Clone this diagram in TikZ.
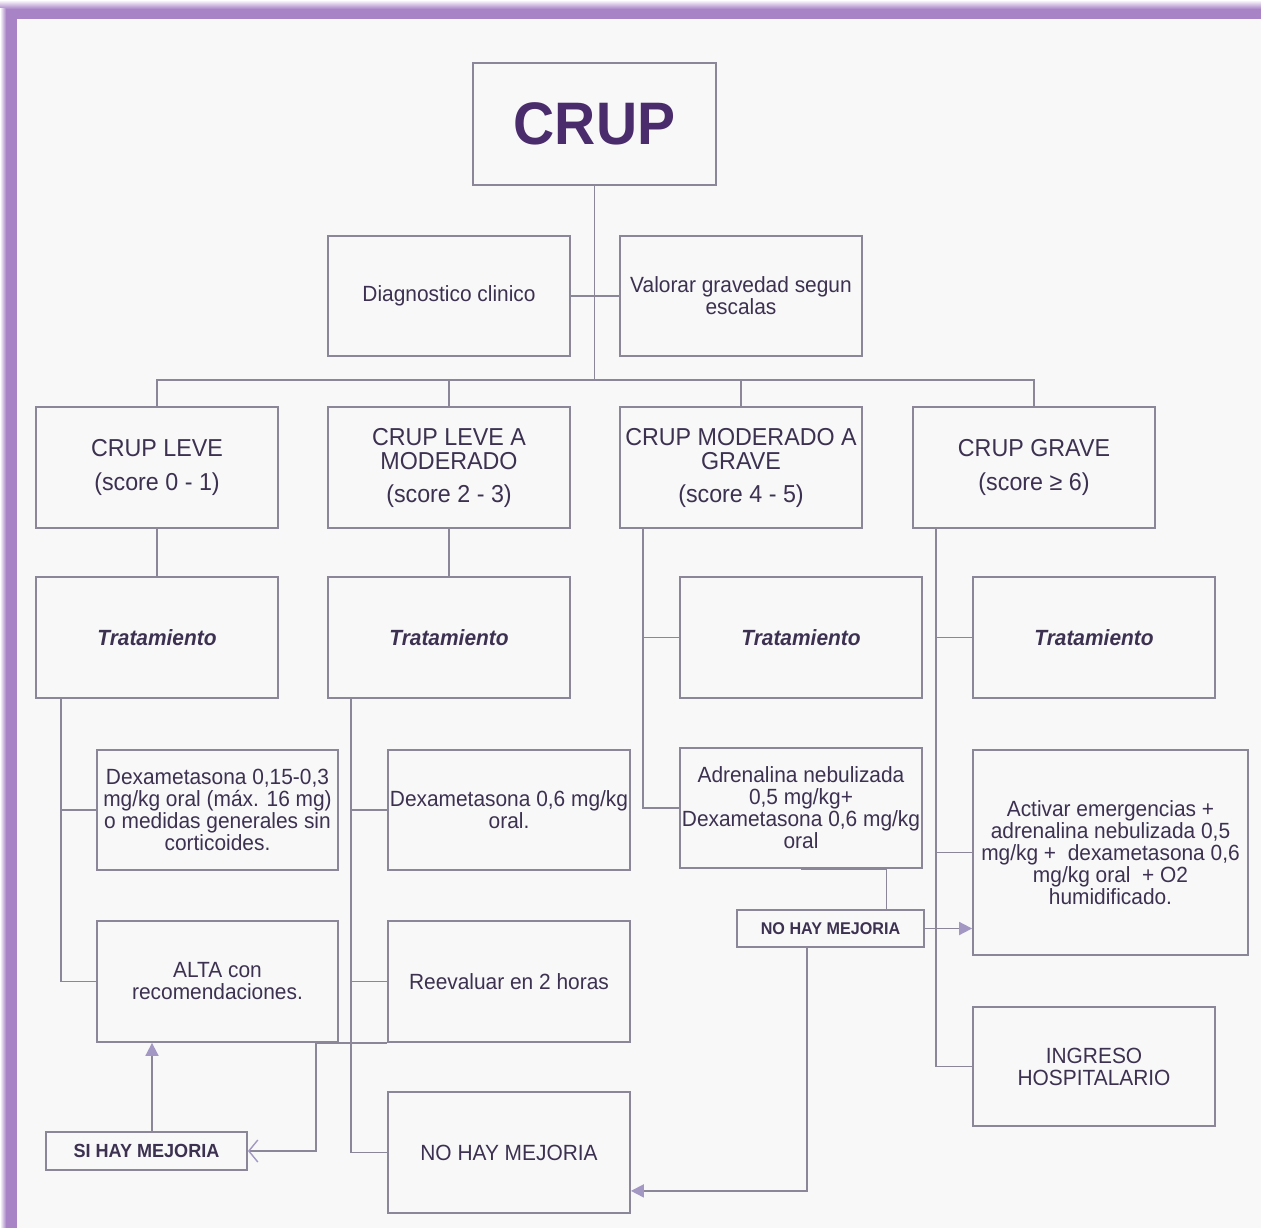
\documentclass[tikz,border=0pt]{standalone}
\usepackage{fontspec}
\setmainfont{Liberation Sans}[FakeStretch=0.95]
\usetikzlibrary{arrows.meta}
\definecolor{bgc}{HTML}{F8F8F8}
\definecolor{framec}{HTML}{A884C6}
\definecolor{linec}{HTML}{8C8699}
\definecolor{textc}{HTML}{3C3150}
\definecolor{titlec}{HTML}{4A2B6B}
\definecolor{arrowc}{HTML}{A397C4}
\begin{document}
\begin{tikzpicture}[x=1pt,y=-1pt,
  box/.style={draw=linec, line width=1.8pt, fill=bgc, inner sep=0pt, align=center, text=textc,
    minimum width=242pt, minimum height=121pt, font=\fontsize{22}{22}\selectfont},
  lvl/.style={box, font=\fontsize{24.5}{24}\selectfont},
  tag/.style={box, minimum height=38pt, font=\fontsize{17}{17}\selectfont\bfseries},
  conn/.style={draw=linec, line width=1.8pt},
  farrow/.style={conn, -{Triangle[length=13pt,width=13pt,color=arrowc]}},
  oarrow/.style={conn, -{Straight Barb[length=9pt,width=22pt,color=arrowc,line width=1.4pt]}}
]
\useasboundingbox (0,0) rectangle (1261,1228);
\fill[bgc] (0,0) rectangle (1261,1228);
\shade[top color=white, bottom color=framec] (0,0) rectangle (1261,9);
\fill[framec] (6,9) rectangle (1261,19);
\shade[left color=white, right color=framec] (0,9) rectangle (6,1228);
\fill[framec] (6,9) rectangle (17,1228);

% nodes
\node[box, minimum width=243pt, minimum height=122pt, text=titlec, font=\fontsize{60}{60}\selectfont\bfseries] (title) at (594.5,124) {CRUP};
\node[box, minimum height=120pt] (diag) at (449,296) {Diagnostico clinico};
\node[box, minimum height=120pt] (valor) at (741,296) {Valorar gravedad segun\\escalas};

\node[lvl] (leve) at (157,467.5) {CRUP LEVE\\[10pt](score 0 - 1)};
\node[lvl] (lam) at (449,467.5) {CRUP LEVE A\\MODERADO\\[9pt](score 2 - 3)};
\node[lvl] (mag) at (741,467.5) {CRUP MODERADO A\\GRAVE\\[9pt](score 4 - 5)};
\node[lvl] (grave) at (1034,467.5) {CRUP GRAVE\\[10pt](score ≥ 6)};

\node[box, font=\fontsize{22}{22}\selectfont\bfseries\itshape] (t1) at (157,637.5) {Tratamiento};
\node[box, font=\fontsize{22}{22}\selectfont\bfseries\itshape] (t2) at (449,637.5) {Tratamiento};
\node[box, font=\fontsize{22}{22}\selectfont\bfseries\itshape] (t3) at (801,637.5) {Tratamiento};
\node[box, font=\fontsize{22}{22}\selectfont\bfseries\itshape] (t4) at (1094,637.5) {Tratamiento};

\node[box, minimum width=241pt, minimum height=120pt] (dexa1) at (217.5,810) {Dexametasona 0,15-0,3\\mg/kg oral (máx. 16 mg)\\o medidas generales sin\\corticoides.};
\node[box, minimum height=120pt] (dexa2) at (509,810) {Dexametasona 0,6 mg/kg\\oral.};
\node[box, minimum height=120pt] (adren) at (801,808) {Adrenalina nebulizada\\0,5 mg/kg+\\Dexametasona 0,6 mg/kg\\oral};
\node[box, minimum width=275pt, minimum height=205pt] (activar) at (1110.5,852.5) {Activar emergencias +\\adrenalina nebulizada 0,5\\mg/kg + \ dexametasona 0,6\\mg/kg oral \ + O2\\humidificado.};

\node[box, minimum width=241pt] (alta) at (217.5,981.5) {ALTA con\\recomendaciones.};
\node[box] (reev) at (509,981.5) {Reevaluar en 2 horas};
\node[box, minimum height=119pt] (ingreso) at (1094,1066.5) {INGRESO\\HOSPITALARIO};
\node[box] (nohay) at (509,1152.5) {NO HAY MEJORIA};

\node[tag, minimum width=201pt, font=\fontsize{19}{19}\selectfont\bfseries] (sihay) at (146.5,1151) {SI HAY MEJORIA};
\node[tag, minimum width=187pt, minimum height=37pt] (nohay2) at (830.5,928.5) {NO HAY MEJORIA};

% connectors
\coordinate (bus) at (594.5,380);
\draw[conn] (title.south) -- (bus);
\draw[conn] (diag.east) -- (valor.west);
\draw[conn] (leve.north) |- (bus) -| (grave.north);
\draw[conn] (lam.north) -- (lam.north |- bus);
\draw[conn] (mag.north) -- (mag.north |- bus);

\draw[conn] (leve.south) -- (t1.north);
\draw[conn] (lam.south) -- (t2.north);
\draw[conn] ([xshift=24pt]mag.south west) |- (t3.west);
\draw[conn] ([xshift=24pt]mag.south west) |- (adren.west);
\draw[conn] ([xshift=24pt]grave.south west) |- (t4.west);
\draw[conn] ([xshift=24pt]grave.south west) |- (activar.west);
\draw[conn] ([xshift=24pt]grave.south west) |- (ingreso.west);

\draw[conn] ([xshift=26pt]t1.south west) |- (dexa1.west);
\draw[conn] ([xshift=26pt]t1.south west) |- (alta.west);
\draw[conn] ([xshift=24pt]t2.south west) |- (dexa2.west);
\draw[conn] ([xshift=24pt]t2.south west) |- (reev.west);
\draw[conn] ([xshift=24pt]t2.south west) |- (nohay.west);

\draw[oarrow] (reev.south west) -- ++(-71,0) |- (sihay.east);
\draw[farrow] ([xshift=5.5pt]sihay.north) -- ([xshift=5.5pt]sihay.north |- alta.south);

\draw[conn] (adren.south) -| ([xshift=56pt]nohay2.north);
\draw[farrow] (nohay2.east) -- (nohay2.east -| activar.west);
\draw[farrow] ([xshift=-23.5pt]nohay2.south) |- ([yshift=23pt]nohay.south east);
\end{tikzpicture}
\end{document}
